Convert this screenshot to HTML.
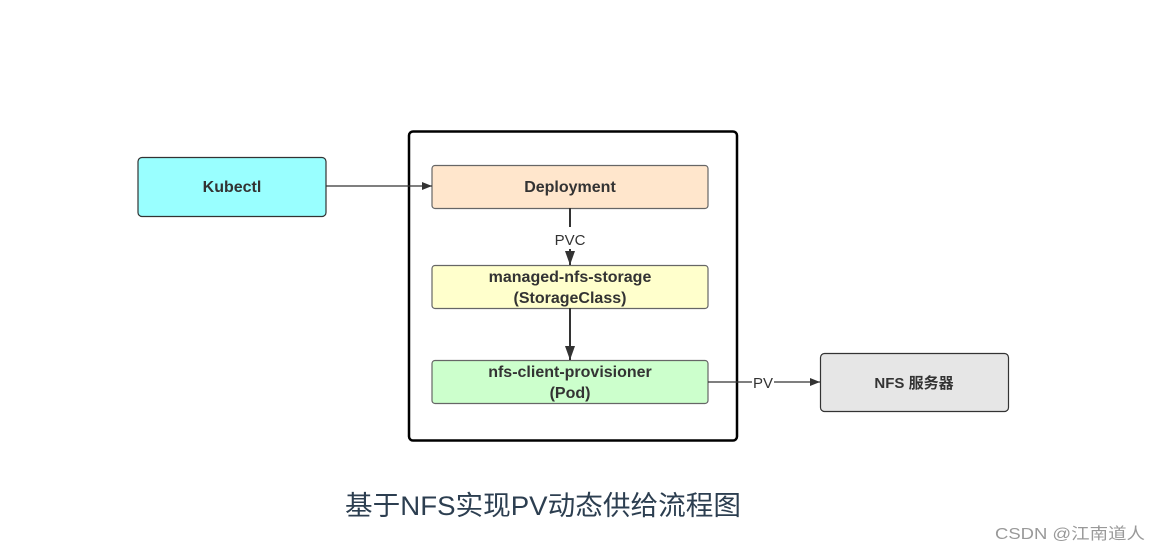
<!DOCTYPE html>
<html><head><meta charset="utf-8"><style>
html,body{margin:0;padding:0;background:#fff;width:1161px;height:553px;overflow:hidden}
</style></head><body>
<svg width="1161" height="553" xmlns="http://www.w3.org/2000/svg" font-family="Liberation Sans, Noto Sans CJK SC, sans-serif">
<defs>
<marker id="a" markerWidth="10" markerHeight="8" refX="10" refY="4" orient="auto" markerUnits="userSpaceOnUse"><path d="M0,0 L10,4 L0,8 z" fill="#333"/></marker>
<marker id="b" markerWidth="14" markerHeight="10" refX="14" refY="5" orient="auto" markerUnits="userSpaceOnUse"><path d="M0,0 L14,5 L0,10 z" fill="#333"/></marker>
</defs>
<rect x="409" y="131.5" width="328" height="309" rx="4" fill="#fff" stroke="#000" stroke-width="2.5"/>
<rect x="138" y="157.5" width="188" height="59" rx="4" fill="#99ffff" stroke="#333" stroke-width="1.2"/>
<text x="232" y="192" text-anchor="middle" font-size="16" font-weight="bold" fill="#333">Kubectl</text>
<rect x="432" y="165.5" width="276" height="43" rx="3" fill="#ffe6cc" stroke="#666" stroke-width="1.2"/>
<text x="570" y="192" text-anchor="middle" font-size="16" font-weight="bold" fill="#333">Deployment</text>
<rect x="432" y="265.5" width="276" height="43" rx="3" fill="#ffffcc" stroke="#666" stroke-width="1.2"/>
<text x="570" y="282" text-anchor="middle" font-size="16" font-weight="bold" fill="#333">managed-nfs-storage</text>
<text x="570" y="303" text-anchor="middle" font-size="16" font-weight="bold" fill="#333">(StorageClass)</text>
<rect x="432" y="360.5" width="276" height="43" rx="3" fill="#ccffcc" stroke="#666" stroke-width="1.2"/>
<text x="570" y="377" text-anchor="middle" font-size="16" font-weight="bold" fill="#333">nfs-client-provisioner</text>
<text x="570" y="398" text-anchor="middle" font-size="16" font-weight="bold" fill="#333">(Pod)</text>
<rect x="820.5" y="353.5" width="188" height="58" rx="4" fill="#e6e6e6" stroke="#333" stroke-width="1.2"/>
<text x="914" y="388" text-anchor="middle" font-size="15" font-weight="bold" fill="#333">NFS 服务器</text>
<line x1="326" y1="186" x2="432" y2="186" stroke="#333" stroke-width="1.2" marker-end="url(#a)"/>
<line x1="570" y1="208" x2="570" y2="227" stroke="#333" stroke-width="2"/>
<text x="570" y="245" text-anchor="middle" font-size="15" fill="#333">PVC</text>
<line x1="570" y1="249" x2="570" y2="265" stroke="#333" stroke-width="2" marker-end="url(#b)"/>
<line x1="570" y1="308" x2="570" y2="360" stroke="#333" stroke-width="2" marker-end="url(#b)"/>
<line x1="708" y1="382" x2="752" y2="382" stroke="#333" stroke-width="1.2"/>
<text x="763" y="388" text-anchor="middle" font-size="15" fill="#333">PV</text>
<line x1="774" y1="382" x2="820" y2="382" stroke="#333" stroke-width="1.2" marker-end="url(#a)"/>
<text x="345" y="515" font-size="27" fill="#2c3e50" textLength="396" lengthAdjust="spacingAndGlyphs">基于NFS实现PV动态供给流程图</text>
<text x="995" y="539" font-size="16" fill="#999" textLength="150" lengthAdjust="spacingAndGlyphs">CSDN @江南道人</text>
</svg>
</body></html>
